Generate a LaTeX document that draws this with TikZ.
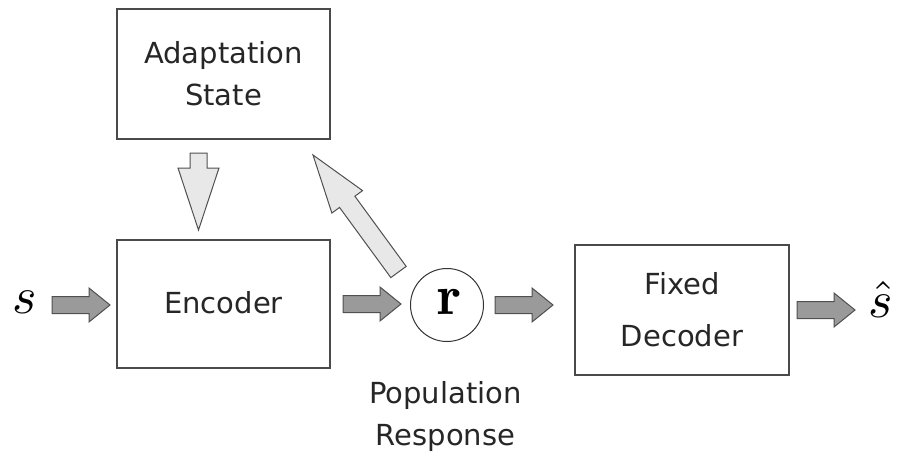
\documentclass[tikz,border=0pt]{standalone}
\usepackage{fontspec}
\newfontfamily\labelfont{DejaVu Sans}
\usetikzlibrary{calc}
\definecolor{boxline}{HTML}{4A4A4A}
\definecolor{arrline}{HTML}{505050}
\definecolor{darkfill}{HTML}{9A9A9A}
\definecolor{lightfill}{HTML}{E8E8E8}
\newcommand{\bArrow}[6]{%
  % #1 style, #2 start, #3 tip, #4 half shaft width, #5 half head width, #6 head length
  \coordinate (hb) at ($(#3)!#6!(#2)$);
  \draw[#1] ($(#2)!#4!90:(#3)$) -- ($(hb)!#4!-90:(#2)$) -- ($(hb)!#5!-90:(#2)$)
    -- (#3) -- ($(hb)!#5!90:(#2)$) -- ($(hb)!#4!90:(#2)$) -- ($(#2)!#4!-90:(#3)$) -- cycle;
}
\begin{document}
\begin{tikzpicture}[x=1pt,y=-1pt,
  blockbox/.style={draw=boxline, line width=1.4pt, fill=white, inner sep=0pt},
  txt/.style={font=\labelfont\fontsize{29}{42}\selectfont, text=black!85, align=center},
  darkarr/.style={draw=arrline, line width=1pt, fill=darkfill, line join=miter},
  lightarr/.style={draw=arrline, line width=1pt, fill=lightfill, line join=miter}]
\useasboundingbox (0,0) rectangle (897,453);
\fill[white] (0,0) rectangle (897,453);

% boxes
\node[blockbox, minimum width=213pt, minimum height=130pt] (adapt) at (223.5,74) {};
\node[txt] (adapttxt) at (adapt.center) {Adaptation\\State};
\node[blockbox, minimum width=213pt, minimum height=128pt] (enc) at (223.5,304) {};
\node[txt] (enctxt) at (223.5,302.5) {Encoder};
\node[blockbox, minimum width=214pt, minimum height=130pt] (dec) at (682,310) {};
\node[txt] (dectxt) at (dec.center) {Fixed\\[10pt]Decoder};

% population response
\node[draw=black!80, line width=1pt, circle, minimum size=73pt, inner sep=0pt] (r) at (447,305) {};
\node[inner sep=0pt] (rtxt) at (449,302) {\scalebox{5.6}{$\mathbf{r}$}};
\node[txt, anchor=north] (poptxt) at (445.5,378) {Population\\Response};

% input / output
\node[inner sep=0pt] (s) at (24.5,302.5) {\scalebox{5.2}{$s$}};
\node[inner sep=0pt, anchor=base] (shat) at (881,317) {\scalebox{5.2}{$\hat{s}$}};

% connector end points
\coordinate (a1s) at (52,305);   \coordinate (a1e) at (110,305);
\coordinate (a2s) at (343,304);  \coordinate (a2e) at (401,304);
\coordinate (a3s) at (495,305);  \coordinate (a3e) at (553,305);
\coordinate (a4s) at (797,310);  \coordinate (a4e) at (855,310);
\coordinate (dns) at (198.5,153);  \coordinate (dne) at (198.5,230);
\coordinate (ups) at (398.5,272);  \coordinate (upe) at (313,155);

\bArrow{darkarr}{a1s}{a1e}{8.5pt}{17pt}{21pt}
\bArrow{darkarr}{a2s}{a2e}{8.5pt}{17pt}{21pt}
\bArrow{darkarr}{a3s}{a3e}{8.5pt}{17pt}{21pt}
\bArrow{darkarr}{a4s}{a4e}{8.5pt}{17pt}{21pt}
\bArrow{lightarr}{dns}{dne}{8.5pt}{20.5pt}{62pt}
\bArrow{lightarr}{ups}{upe}{9.5pt}{19pt}{58pt}
\end{tikzpicture}
\end{document}
